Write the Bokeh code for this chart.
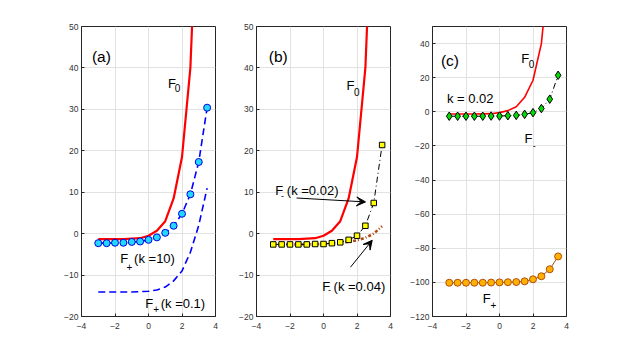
from bokeh.plotting import figure
from bokeh.layouts import row
from bokeh.models import Range1d, FixedTicker, Arrow, VeeHead
from bokeh.core.properties import value
from bokeh.embed import file_html
from bokeh.resources import INLINE

# ---------------- data ----------------
x_pts = [-3.0, -2.5, -2.0, -1.5, -1.0, -0.5, 0.0, 0.5, 1.0, 1.5, 2.0, 2.5, 3.0, 3.5]
f0_x = [-3.0, -2.5, -2.0, -1.5, -1.0, -0.5, 0.0, 0.5, 1.0, 1.5, 2.0, 2.5, 3.0]
f0_y = [-1.3, -1.3, -1.3, -1.3, -1.2, -1.1, -0.5, 0.7, 3.0, 8.5, 18.5, 40.0, 90.0]
fplus_k10 = [-2.3, -2.3, -2.2, -2.2, -2.0, -1.9, -1.5, -0.9, 0.2, 1.9, 4.8, 9.5, 17.3, 30.4]
fplus_k01 = [-14.1, -14.1, -14.1, -14.1, -14.1, -14.0, -13.9, -13.6, -12.9, -11.4, -9.0, -4.5, 2.0, 11.0]
fminus_k002 = [-2.6, -2.6, -2.6, -2.6, -2.6, -2.5, -2.5, -2.3, -2.1, -1.5, -0.5, 1.9, 7.4, 21.4]
fminus_k004 = [-2.6, -2.6, -2.6, -2.6, -2.6, -2.6, -2.5, -2.4, -2.2, -2.0, -1.6, -1.0, 0.0, 1.8]
fplus_c = [-100.2, -100.2, -100.2, -100.2, -100.2, -100.1, -100.0, -99.9, -99.8, -99.4, -98.2, -96.4, -92.3, -84.8]

x_ticks = [-4, -2, 0, 2, 4]
y_ticks_ab = [-20, -10, 0, 10, 20, 30, 40, 50]
y_ticks_c = [-120, -100, -80, -60, -40, -20, 0, 20, 40]

FONT = "Liberation Sans"
AX = "#262626"


def make_fig(ymin, ymax, yticks, left, right):
    p = figure(frame_width=134, frame_height=290,
               x_range=Range1d(-4, 4), y_range=Range1d(ymin, ymax),
               output_backend="svg", toolbar_location=None,
               min_border_left=left, min_border_right=right,
               min_border_top=26, min_border_bottom=30)
    p.xaxis.ticker = FixedTicker(ticks=x_ticks)
    p.yaxis.ticker = FixedTicker(ticks=yticks)
    p.xgrid.ticker = FixedTicker(ticks=x_ticks)
    p.ygrid.ticker = FixedTicker(ticks=yticks)
    for ax in p.axis:
        ax.major_tick_in = 3
        ax.major_tick_out = 0
        ax.minor_tick_in = 0
        ax.minor_tick_out = 0
        ax.axis_line_color = AX
        ax.major_tick_line_color = AX
        ax.major_label_text_font = FONT
        ax.major_label_text_font_size = "8.5px"
        ax.major_label_text_color = "#333333"
    p.xaxis.major_label_standoff = 6
    p.yaxis.major_label_standoff = 3
    p.grid.grid_line_color = "#E2E2E2"
    p.grid.grid_line_width = 1
    p.outline_line_color = AX
    p.background_fill_color = "white"
    p.border_fill_color = "white"
    return p


def label(p, x, y, txt, size="13px"):
    p.text(x=[x], y=[y], text=[txt], text_font=value(FONT),
           text_font_size=value(size), text_color="black",
           text_baseline="alphabetic", text_align="left")


# ---------------- panel (a) ----------------
pa = make_fig(-20, 50, y_ticks_ab, 81, 6)
pa.line(f0_x, f0_y, line_color="#FF0000", line_width=2.2)
pa.line(x_pts, fplus_k01, line_color="#0000FF", line_width=1.6, line_dash="7 4")
pa.line(x_pts, fplus_k10, line_color="#0000FF", line_width=1.6, line_dash="7 4")
pa.scatter(x_pts, fplus_k10, marker="circle", size=7, fill_color="#22D8FF",
           line_color="#0000E0", line_width=1)
label(pa, -3.38, 42.8, "(a)", "15.5px")
label(pa, 1.16, 36.2, "F")
label(pa, 1.57, 35.2, "0", "10px")
label(pa, -1.68, -6.07, "F")
label(pa, -1.31, -8.1, "+", "10px")
label(pa, -0.86, -6.07, "(k =10)")
label(pa, -0.20, -16.9, "F")
label(pa, 0.28, -18.1, "+", "10px")
label(pa, 0.73, -16.9, "(k =0.1)")

# ---------------- panel (b) ----------------
pb = make_fig(-20, 50, y_ticks_ab, 35, 6)
pb.line(f0_x, f0_y, line_color="#FF0000", line_width=2.2)
pb.line(x_pts, fminus_k004, line_color="#B04A15", line_width=2.6, line_dash="3 2 1 2")
pb.line(x_pts, fminus_k002, line_color="black", line_width=1, line_dash="6 3 1 3")
pb.scatter(x_pts, fminus_k002, marker="square", size=5.5, fill_color="#FFFF00",
           line_color="black", line_width=1)
label(pb, -3.27, 42.7, "(b)", "15.5px")
label(pb, 1.37, 35.65, "F")
label(pb, 1.82, 34.3, "0", "10px")
label(pb, -2.88, 10.3, "F")
label(pb, -2.54, 9.2, "-", "9px")
label(pb, -2.19, 10.3, "(k =0.02)")
label(pb, -0.08, -12.7, "F")
label(pb, 0.27, -13.6, "-", "9px")
label(pb, 0.60, -12.7, "(k =0.04)")
pb.add_layout(Arrow(end=VeeHead(size=9, fill_color="black", line_color="black"),
                    x_start=-1.61, y_start=8.6, x_end=2.51, y_end=7.66,
                    line_color="black", line_width=1))
pb.add_layout(Arrow(end=VeeHead(size=9, fill_color="black", line_color="black"),
                    x_start=1.61, y_start=-8.1, x_end=2.91, y_end=-1.6,
                    line_color="black", line_width=1))

# ---------------- panel (c) ----------------
pc = make_fig(-120, 50, y_ticks_c, 36, 6)
pc.line(f0_x, f0_y, line_color="#FF0000", line_width=1.6)
pc.line(x_pts, fminus_k002, line_color="black", line_width=1, line_dash="6 3 1 3")
pc.scatter(x_pts, fminus_k002, marker="diamond", size=8.5, fill_color="#00DD00",
           line_color="black", line_width=1)
pc.line(x_pts, fplus_c, line_color="#A0501A", line_width=1)
pc.scatter(x_pts, fplus_c, marker="circle", size=7, fill_color="#FFB000",
           line_color="#B0500F", line_width=1)
label(pc, -3.50, 30.1, "(c)", "15.5px")
label(pc, 1.30, 31.1, "F")
label(pc, 1.75, 28.3, "0", "10px")
label(pc, -3.14, 7.6, "k = 0.02")
label(pc, 1.49, -15.8, "F")
label(pc, 1.99, -19.8, "-", "9px")
label(pc, -1.0, -109.6, "F")
label(pc, -0.53, -113.5, "+", "10px")

layout = row(pa, pb, pc)
open("out.html", "w").write(file_html(layout, INLINE))
